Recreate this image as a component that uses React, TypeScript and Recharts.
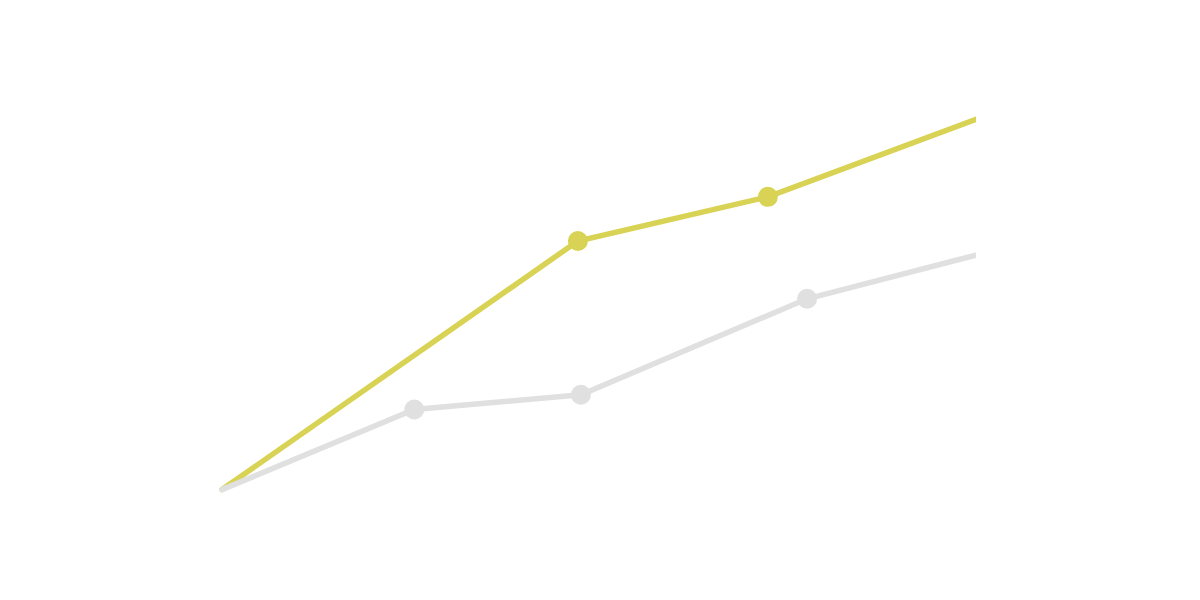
import React from "react";
import { LineChart, Line, XAxis, YAxis } from "recharts";

const greyX = [0, 25.5, 47.6, 77.6, 100];
const greyY = [0, 21.6, 25.6, 51.5, 63.3];
const yellowX = [0, 47.2, 72.4, 100];
const yellowY = [0, 67.1, 79.0, 99.9];

const greyData = greyX.map((x, i) => ({ x, y: greyY[i] }));
const yellowData = yellowX.map((x, i) => ({ x, y: yellowY[i] }));

// only the middle points carry a dot
const makeDot = (color: string, count: number) => (props: any) => {
  const { cx, cy, index } = props;
  if (index === 0 || index === count - 1) return <g key={`d-${index}`} />;
  return <circle key={`d-${index}`} cx={cx} cy={cy} r={10} fill={color} />;
};

export default function App() {
  return (
    <LineChart
      width={1184}
      height={584}
      margin={{ top: 74, right: 216, bottom: 95, left: 211 }}
    >
      <XAxis
        type="number"
        dataKey="x"
        domain={[-0.4, 100]}
        allowDataOverflow
        hide
      />
      <YAxis type="number" dataKey="y" domain={[-2, 110]} hide />
      <Line
        data={yellowData}
        dataKey="y"
        stroke="#d8d354"
        strokeWidth={5.5}
        strokeLinecap="round"
        dot={makeDot("#d8d354", yellowData.length)}
        activeDot={false}
        isAnimationActive={false}
      />
      <Line
        data={greyData}
        dataKey="y"
        stroke="#e0e0e0"
        strokeWidth={5.5}
        strokeLinecap="round"
        dot={makeDot("#e0e0e0", greyData.length)}
        activeDot={false}
        isAnimationActive={false}
      />
    </LineChart>
  );
}
